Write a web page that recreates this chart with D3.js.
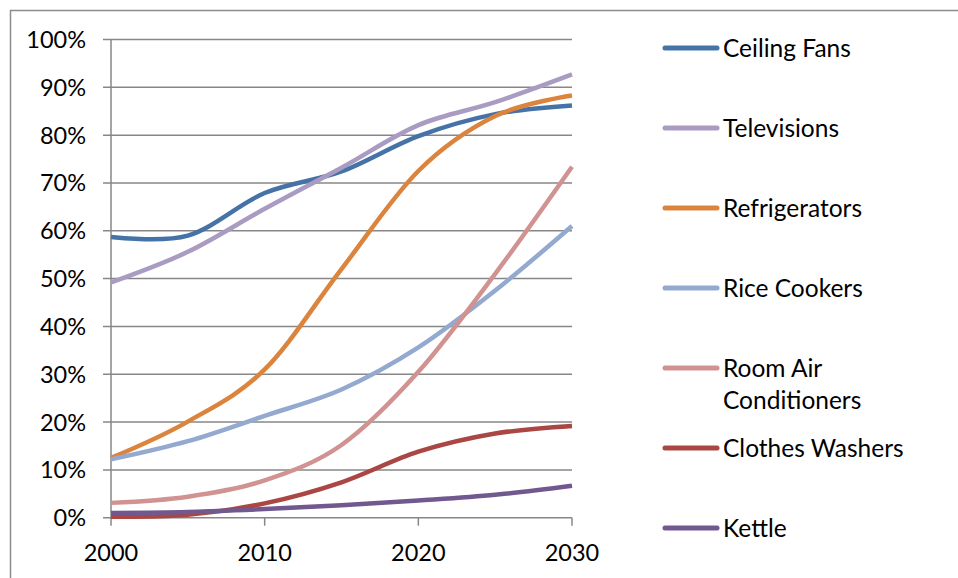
<!DOCTYPE html>
<html>
<head>
<meta charset="utf-8">
<script src="https://cdn.jsdelivr.net/npm/d3@7"></script>
<style>
  body { margin: 0; background: #fff; }
  text { font-family: Lato, "Open Sans", sans-serif; fill: #000; }
</style>
</head>
<body>
<div id="chart"></div>
<script>
// ownership share (%) at 5-year steps
const years = [2000, 2005, 2010, 2015, 2020, 2025, 2030];
const ceilingFans = [58.7, 59.0, 67.9, 72.4, 79.8, 84.4, 86.2];
const televisions = [49.2, 55.6, 64.6, 73.2, 82.1, 86.9, 92.7];
const refrigerators = [12.5, 20.1, 31.0, 52.0, 72.5, 84.0, 88.3];
const riceCookers = [12.2, 16.0, 21.3, 26.8, 35.6, 47.5, 61.0];
const roomAirConditioners = [3.1, 4.4, 7.8, 15.2, 30.5, 51.0, 73.4];
const clothesWashers = [0.2, 0.6, 3.0, 7.4, 13.8, 17.6, 19.2];
const kettle = [1.0, 1.2, 1.8, 2.6, 3.6, 4.8, 6.7];

const seriesNames = ["Ceiling Fans", "Televisions", "Refrigerators", "Rice Cookers", "Room Air Conditioners", "Clothes Washers", "Kettle"];
const seriesValues = [ceilingFans, televisions, refrigerators, riceCookers, roomAirConditioners, clothesWashers, kettle];
const seriesColors = ["#4572a7", "#aa9bc2", "#db843d", "#93a9cf", "#d19392", "#aa4643", "#71588f"];

const yTicks = [0, 10, 20, 30, 40, 50, 60, 70, 80, 90, 100];
const xTicks = [2000, 2010, 2020, 2030];

const width = 958, height = 578;
const svg = d3.select("#chart").append("svg")
  .attr("width", width)
  .attr("height", height);

// outer frame (runs off the right and bottom edges)
svg.append("rect")
  .attr("x", 10.5).attr("y", 10.5)
  .attr("width", 980).attr("height", 600)
  .attr("fill", "none")
  .attr("stroke", "#8c8c8c")
  .attr("stroke-width", 1.5);

const x = d3.scaleLinear().domain([2000, 2030]).range([111, 572]);
const y = d3.scaleLinear().domain([0, 100]).range([517.7, 39.5]);

// gridlines
svg.append("g")
  .selectAll("line")
  .data(yTicks)
  .join("line")
  .attr("x1", x(2000) - 8).attr("x2", x(2030))
  .attr("y1", d => y(d)).attr("y2", d => y(d))
  .attr("stroke", "#878787")
  .attr("stroke-width", 1.5);

// y axis line
svg.append("line")
  .attr("x1", x(2000)).attr("x2", x(2000))
  .attr("y1", y(100)).attr("y2", y(0))
  .attr("stroke", "#878787").attr("stroke-width", 1.5);

// x axis ticks
svg.append("g")
  .selectAll("line")
  .data(xTicks)
  .join("line")
  .attr("x1", d => x(d)).attr("x2", d => x(d))
  .attr("y1", y(0)).attr("y2", y(0) + 8)
  .attr("stroke", "#878787").attr("stroke-width", 1.5);

svg.append("g")
  .selectAll("text")
  .data(yTicks)
  .join("text")
  .attr("x", 86)
  .attr("y", d => y(d))
  .attr("dy", "0.36em")
  .attr("text-anchor", "end")
  .style("font-size", "23.5px")
  .text(d => d + "%");

svg.append("g")
  .selectAll("text")
  .data(xTicks)
  .join("text")
  .attr("x", d => x(d))
  .attr("y", 553)
  .attr("dy", "0.36em")
  .attr("text-anchor", "middle")
  .style("font-size", "23.5px")
  .text(d => d);

// series lines (smoothed like the spreadsheet original)
const line = d3.line()
  .x((d, i) => x(years[i]))
  .y(d => y(d))
  .curve(d3.curveCardinal.tension(0));

svg.append("g")
  .selectAll("path")
  .data(seriesValues)
  .join("path")
  .attr("d", line)
  .attr("fill", "none")
  .attr("stroke", (d, i) => seriesColors[i])
  .attr("stroke-width", 4.5)
  .attr("stroke-linejoin", "round");

// legend
const rows = svg.append("g")
  .selectAll("g")
  .data(seriesNames)
  .join("g")
  .attr("transform", (d, i) => `translate(0,${48 + i * 80})`);

rows.append("line")
  .attr("x1", 665).attr("x2", 717)
  .attr("stroke", (d, i) => seriesColors[i])
  .attr("stroke-width", 5)
  .attr("stroke-linecap", "round");

rows.append("text")
  .style("font-size", "24.5px")
  .each(function (d) {
    const t = d3.select(this);
    const parts = d === "Room Air Conditioners" ? ["Room Air", "Conditioners"] : [d];
    parts.forEach((p, k) => {
      t.append("tspan")
        .attr("x", 723)
        .attr("dy", k === 0 ? "0.36em" : "32px")
        .text(p);
    });
  });
</script>
</body>
</html>
